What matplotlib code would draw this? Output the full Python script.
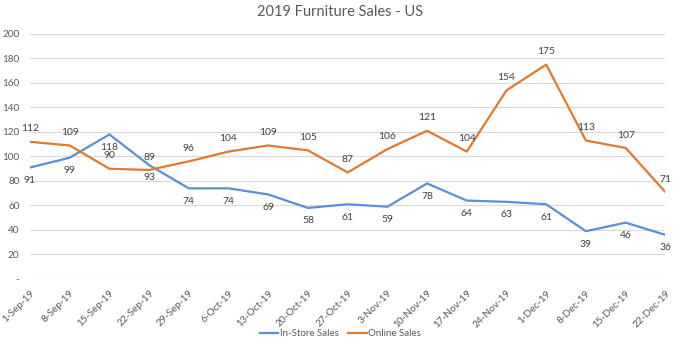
import matplotlib
matplotlib.use("Agg")
import matplotlib.pyplot as plt

plt.rcParams["font.family"] = ["Lato", "DejaVu Sans"]

weeks = ["1-Sep-19", "8-Sep-19", "15-Sep-19", "22-Sep-19", "29-Sep-19", "6-Oct-19",
         "13-Oct-19", "20-Oct-19", "27-Oct-19", "3-Nov-19", "10-Nov-19", "17-Nov-19",
         "24-Nov-19", "1-Dec-19", "8-Dec-19", "15-Dec-19", "22-Dec-19"]
in_store = [91, 99, 118, 93, 74, 74, 69, 58, 61, 59, 78, 64, 63, 61, 39, 46, 36]
online = [112, 109, 90, 89, 96, 104, 109, 105, 87, 106, 121, 104, 154, 175, 113, 107, 71]
y_ticks = [0, 20, 40, 60, 80, 100, 120, 140, 160, 180, 200]

blue = "#5B8FD6"
orange = "#DF7A2E"
grid = "#D9D9D9"
text_c = "#595959"

fig = plt.figure(figsize=(6.81, 3.49), dpi=100)
ax = fig.add_axes([0.044, 0.2006, 0.933, 0.702])

x = list(range(len(weeks)))
ax.plot(x, in_store, color=blue, lw=1.6, label="In-Store Sales", solid_joinstyle="round")
ax.plot(x, online, color=orange, lw=1.6, label="Online Sales", solid_joinstyle="round")

# value labels: in-store below its line, online above
for xi, v in zip(x, in_store):
    ax.annotate(str(v), (xi, v), xytext=(0, -6), textcoords="offset points",
                ha="center", va="top", fontsize=7.5, color="#404040")
for xi, v in zip(x, online):
    ax.annotate(str(v), (xi, v), xytext=(0, 6), textcoords="offset points",
                ha="center", va="bottom", fontsize=7.5, color="#404040")

ax.set_xlim(0, len(weeks) - 1)
ax.set_ylim(0, 200)
ax.set_yticks(y_ticks)
ax.set_yticklabels(["-" if t == 0 else str(t) for t in y_ticks])
ax.set_xticks(x)
ax.set_xticklabels(weeks, rotation=45, ha="right", va="top", rotation_mode="anchor")
ax.tick_params(axis="both", length=0, labelsize=7.2, colors=text_c)
ax.tick_params(axis="y", pad=7.5)
ax.tick_params(axis="x", pad=7)

ax.grid(axis="y", color=grid, lw=0.8)
ax.set_axisbelow(True)
for s in ax.spines.values():
    s.set_visible(False)

fig.suptitle("2019 Furniture Sales - US", x=0.5, y=0.985, fontsize=10.5, color=text_c)
fig.legend(loc="center", bbox_to_anchor=(0.5, 0.043), ncol=2, frameon=False,
           fontsize=7, handlelength=1.9, handletextpad=0.15, columnspacing=1.0,
           labelcolor=text_c)

fig.savefig("out.png", dpi=100)
